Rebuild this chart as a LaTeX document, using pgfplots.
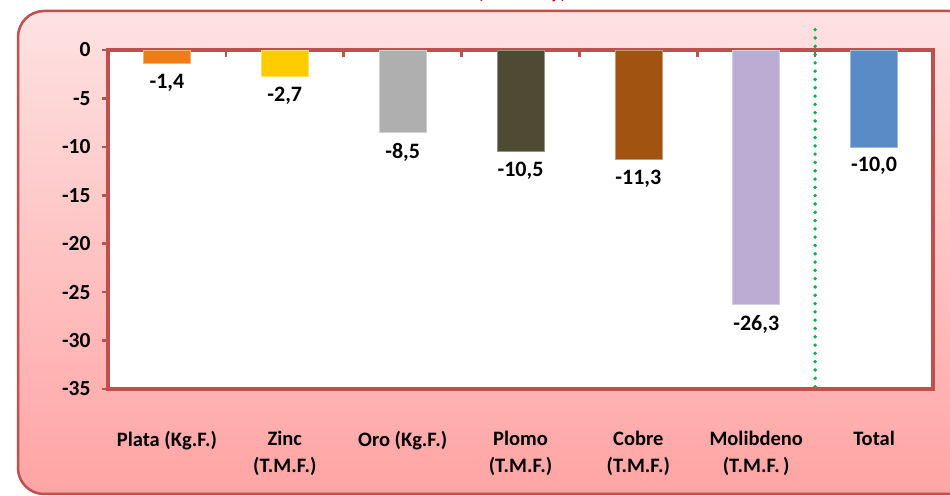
\documentclass[border=0pt]{standalone}
\usepackage{pgfplots}
\pgfplotsset{compat=1.18}
\usepackage{fontspec}
\setmainfont{Carlito}

\definecolor{axred}{HTML}{C0504D}
\definecolor{bgtop}{HTML}{FEE2E2}
\definecolor{bgbot}{HTML}{FFA4A4}
\definecolor{cplata}{HTML}{F07C18}
\definecolor{czinc}{HTML}{FFCC00}
\definecolor{coro}{HTML}{AFAFAF}
\definecolor{cplomo}{HTML}{4F4A33}
\definecolor{ccobre}{HTML}{A15312}
\definecolor{cmolib}{HTML}{BBACD3}
\definecolor{ctotal}{HTML}{5B8BC7}
\definecolor{dotgreen}{HTML}{00B050}
\definecolor{titred}{HTML}{C00000}

\begin{document}
\begin{tikzpicture}
\useasboundingbox (0,0) rectangle (950bp,496bp);
\clip (0,0) rectangle (950bp,496bp);

% panel background
\draw[axred, line width=2.5bp, rounded corners=26bp, top color=bgtop, bottom color=bgbot]
  (18bp,2bp) rectangle (975bp,485bp);

% title, mostly cut off by the page edge
\node[anchor=base, text=titred, font=\fontsize{21bp}{25bp}\selectfont\bfseries]
  at (522bp,497bp) {(Ene-May)};

\begin{axis}[
    scale only axis,
    width=825bp, height=339bp,
    at={(108bp,107bp)}, anchor=south west,
    xmin=-0.5, xmax=6.5,
    ymin=-35, ymax=0,
    clip=false,
    axis background/.style={fill=white},
    axis line style={draw=axred, line width=3.5bp},
    ybar,
    bar width=47bp,
    ytick={-35,-30,...,0},
    yticklabels={-35,-30,-25,-20,-15,-10,-5,0},
    ytick pos=left,
    tick align=outside,
    major tick length=6bp,
    ytick style={draw=axred, line width=2.5bp},
    yticklabel style={font=\fontsize{21.5bp}{25bp}\selectfont\bfseries, xshift=-8bp},
    xtick={0,1,2,3,4,5,6},
    xticklabels={Plata (Kg.F.), {Zinc\\(T.M.F.)}, Oro (Kg.F.), {Plomo\\(T.M.F.)},
                 {Cobre\\(T.M.F.)}, {Molibdeno\\(T.M.F.\,)}, Total},
    xticklabel pos=lower,
    xtick style={draw=none},
    xticklabel style={align=center, font=\fontsize{20.5bp}{27bp}\selectfont\bfseries, yshift=-33bp},
    nodes near coords={\pgfmathprintnumber[assume math mode=true,fixed,fixed zerofill,precision=1,use comma]{\pgfplotspointmeta}},
    every node near coord/.append style={font=\fontsize{22bp}{26bp}\selectfont\bfseries, text=black, yshift=-7bp},
]
\addplot[fill=cplata, draw=cplata!60!white, line width=0.6bp, bar shift=0pt] coordinates {(0,-1.4)};
\addplot[fill=czinc,  draw=czinc!60!white,  line width=0.6bp, bar shift=0pt] coordinates {(1,-2.7)};
\addplot[fill=coro,   draw=coro!60!white,   line width=0.6bp, bar shift=0pt] coordinates {(2,-8.5)};
\addplot[fill=cplomo, draw=cplomo!60!white, line width=0.6bp, bar shift=0pt] coordinates {(3,-10.5)};
\addplot[fill=ccobre, draw=ccobre!60!white, line width=0.6bp, bar shift=0pt] coordinates {(4,-11.3)};
\addplot[fill=cmolib, draw=cmolib!60!white, line width=0.6bp, bar shift=0pt] coordinates {(5,-26.3)};
\addplot[fill=ctotal, draw=ctotal!60!white, line width=0.6bp, bar shift=0pt] coordinates {(6,-10.0)};

% category separators on the zero line
\pgfplotsinvokeforeach{0.5,1.5,2.5,3.5,4.5,5.5}{
  \draw[axred, line width=2.5bp] (axis cs:#1,0) -- (axis cs:#1,-0.7);
}
% dotted separator before the total
\draw[dotgreen, line width=3.8bp, line cap=round, dash pattern=on 0pt off 8.3bp]
  (axis cs:5.5,2.1) -- (axis cs:5.5,-35);
\end{axis}
\end{tikzpicture}
\end{document}
